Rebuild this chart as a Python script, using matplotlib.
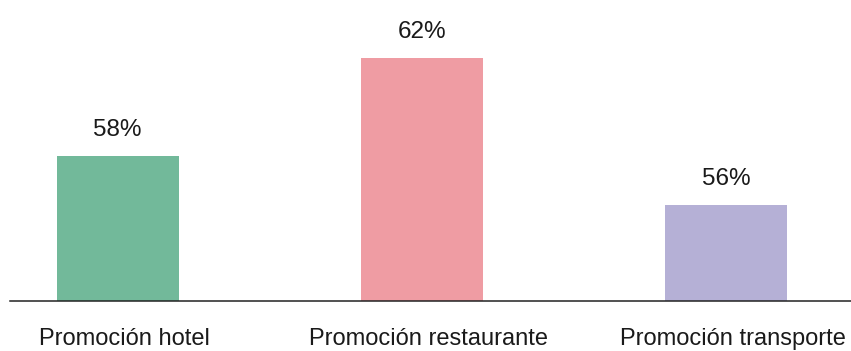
import matplotlib.pyplot as plt

plt.rcParams['font.family'] = ['Liberation Sans', 'DejaVu Sans']

categories = ["Promoción hotel", "Promoción restaurante", "Promoción transporte"]
values = [58, 62, 56]
colors = ["#72b99a", "#ef9ca3", "#b5b0d6"]

fig = plt.figure(figsize=(8.51, 3.51), dpi=100)
ax = fig.add_axes([10 / 851, 1 - 301 / 351, 841 / 851, 301 / 351])

x = range(len(categories))
bars = ax.bar(x, values, width=0.4, color=colors)

ax.set_xlim(-0.354, 2.41)
ax.set_ylim(52.05, 64.4)

# percentage above each bar
for xi, v in zip(x, values):
    ax.annotate(f"{v}%", xy=(xi, v), xytext=(0, 14.5), textcoords="offset points",
                ha="center", va="baseline", fontsize=17.5, color="#1a1a1a")

# category names sit near the bottom edge of the figure
for xi, name in zip(x, categories):
    ax.annotate(name, xy=(xi, 6 / 351), xycoords=("data", "figure fraction"),
                xytext=(5, 0), textcoords="offset points",
                ha="center", va="baseline", fontsize=17, color="#1a1a1a",
                annotation_clip=False)

ax.set_xticks([])
ax.set_yticks([])

for side in ["top", "right", "left"]:
    ax.spines[side].set_visible(False)
ax.spines["bottom"].set_color("#222222")
ax.spines["bottom"].set_linewidth(1.1)

fig.savefig("out.png", dpi=100)
